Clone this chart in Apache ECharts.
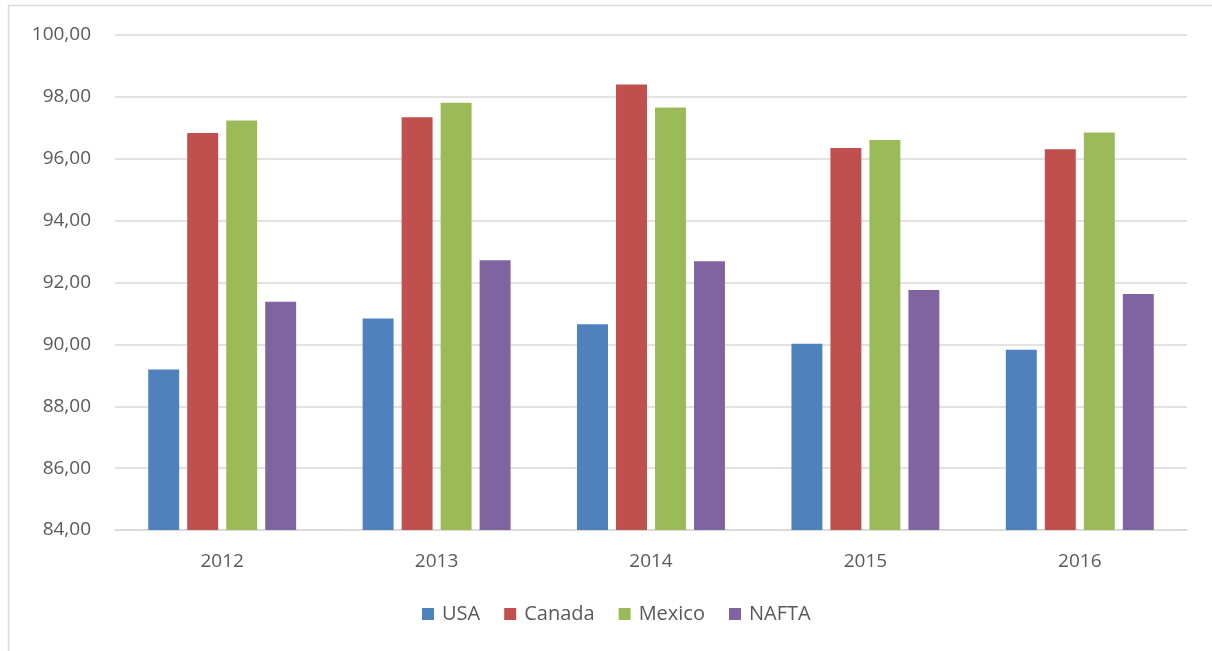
<!DOCTYPE html>
<html>
<head>
<meta charset="utf-8">
<script src="https://cdn.jsdelivr.net/npm/echarts@6/dist/echarts.min.js"></script>
<style>
  html, body { margin: 0; padding: 0; background: #fff; }
  #chart { width: 1212px; height: 651px; }
</style>
</head>
<body>
<div id="chart"></div>
<script>
// Efficiency scores by country, 2012–2016
const years = ['2012', '2013', '2014', '2015', '2016'];
const usa    = [89.19, 90.84, 90.65, 90.02, 89.83];
const canada = [96.83, 97.34, 98.40, 96.35, 96.31];
const mexico = [97.24, 97.81, 97.66, 96.61, 96.85];
const nafta  = [91.38, 92.72, 92.69, 91.76, 91.63];
const seriesNames = ['USA', 'Canada', 'Mexico', 'NAFTA'];
const seriesColors = ['#4F81BD', '#C0504D', '#9BBB59', '#8064A2'];

const FONT = '"Open Sans", "Liberation Sans", sans-serif';
const TEXT = '#595959';
const FS = 19;

const chart = echarts.init(document.getElementById('chart'), null, { renderer: 'canvas' });

const fmt = v => v.toFixed(2).replace('.', ',');

chart.setOption({
  animation: false,
  backgroundColor: '#ffffff',
  textStyle: { fontFamily: FONT },
  graphic: [{
    type: 'rect',
    shape: { x: 8.5, y: 5.5, width: 1220, height: 700 },
    style: { fill: 'none', stroke: '#d9d9d9', lineWidth: 1.5 },
    silent: true,
    z: -10
  }],
  legend: {
    data: seriesNames,
    bottom: 22,
    left: 417,
    itemWidth: 12,
    itemHeight: 12,
    itemGap: 24,
    icon: 'rect',
    textStyle: { color: TEXT, fontSize: 20, fontFamily: FONT, padding: [0, 0, 0, 3] }
  },
  grid: { left: 115, right: 25, top: 35, bottom: 121, containLabel: false },
  xAxis: {
    type: 'category',
    data: years,
    axisLine: { show: true, lineStyle: { color: '#d9d9d9', width: 1.5 } },
    axisTick: { show: false },
    axisLabel: { color: TEXT, fontSize: FS, fontFamily: FONT, margin: 22 }
  },
  yAxis: {
    type: 'value',
    min: 84,
    max: 100,
    interval: 2,
    axisLine: { show: false },
    axisTick: { show: false },
    splitLine: { lineStyle: { color: '#d9d9d9', width: 1.5 } },
    axisLabel: { color: TEXT, fontSize: FS, fontFamily: FONT, margin: 24, formatter: fmt }
  },
  series: [usa, canada, mexico, nafta].map((vals, i) => ({
    name: seriesNames[i],
    type: 'bar',
    data: vals,
    barGap: '26%',
    barCategoryGap: '31%',
    itemStyle: { color: seriesColors[i] }
  }))
});
</script>
</body>
</html>
